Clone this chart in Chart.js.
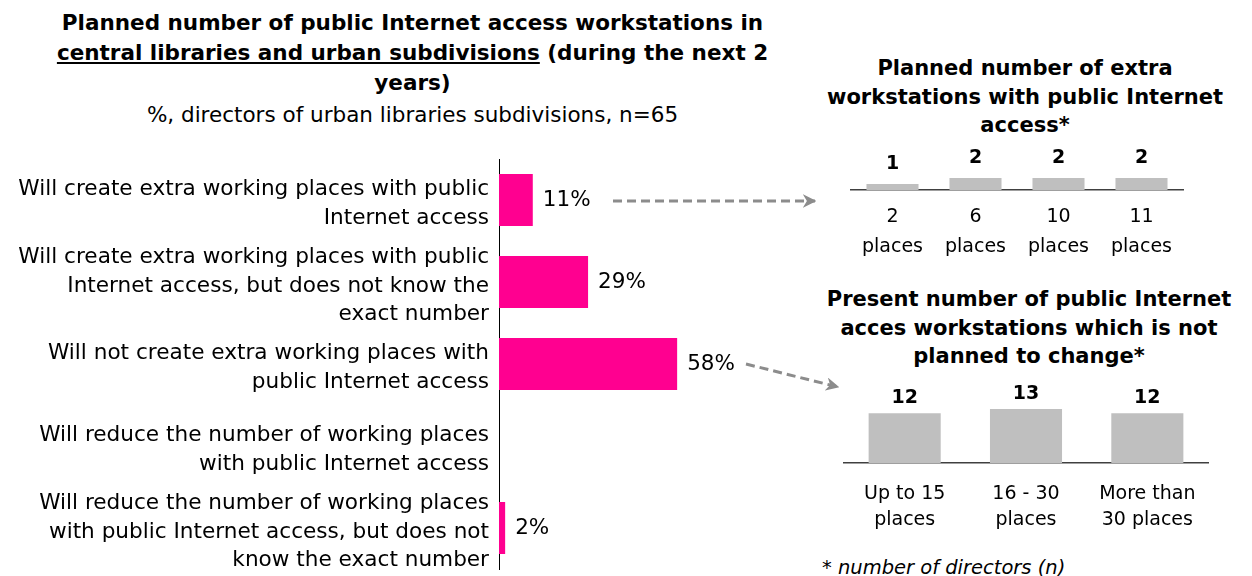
<!DOCTYPE html>
<html>
<head>
<meta charset="utf-8">
<script src="https://cdn.jsdelivr.net/npm/chart.js@4.4.1/dist/chart.umd.min.js"></script>
<style>
  body { margin: 0; background: #fff; width: 1252px; height: 576px; position: relative; overflow: hidden; }
  .t { position: absolute; text-align: center; color: #000; white-space: nowrap; }
  #mainTitle { left: 40px; width: 745px; top: 8px; font: bold 21.5px/30px "DejaVu Sans"; }
  #mainSub { left: 40px; width: 745px; top: 101px; font: 21.5px/28px "DejaVu Sans"; }
  #t1 { left: 805px; width: 440px; top: 54px; font: bold 21px/28.5px "DejaVu Sans"; }
  #t2 { left: 809px; width: 440px; top: 285px; font: bold 21px/28.5px "DejaVu Sans"; }
  #note { position: absolute; left: 822px; top: 556px; font: italic 19.5px "DejaVu Sans"; color: #000; white-space: nowrap; }
  svg { position: absolute; left: 0; top: 0; }
</style>
</head>
<body>
<div class="t" id="mainTitle">Planned number of public Internet access workstations in<br><u>central libraries and urban subdivisions</u> (during the next 2<br>years)</div>
<div class="t" id="mainSub">%, directors of urban libraries subdivisions, n=65</div>
<div class="t" id="t1">Planned number of extra<br>workstations with public Internet<br>access*</div>
<div class="t" id="t2">Present number of public Internet<br>acces workstations which is not<br>planned to change*</div>
<div id="note">* number of directors (n)</div>

<div style="position:absolute;left:0;top:150px;width:800px;height:426px"><canvas id="mainChart"></canvas></div>
<div style="position:absolute;left:840px;top:140px;width:360px;height:120px"><canvas id="extraChart"></canvas></div>
<div style="position:absolute;left:830px;top:370px;width:390px;height:170px"><canvas id="presentChart"></canvas></div>

<svg width="1252" height="576">
  <defs>
    <marker id="head" viewBox="0 0 10 10" refX="9" refY="5" markerWidth="4.5" markerHeight="4.5" orient="auto">
      <path d="M0,0 L10,5 L0,10 L3,5 z" fill="#8c8c8c"/>
    </marker>
  </defs>
  <line x1="613" y1="201" x2="815" y2="201" stroke="#8c8c8c" stroke-width="3" stroke-dasharray="9,5" marker-end="url(#head)"/>
  <line x1="746" y1="364" x2="838" y2="387" stroke="#8c8c8c" stroke-width="3" stroke-dasharray="9,5" marker-end="url(#head)"/>
</svg>

<script>
const mainLabels = [
  ['Will create extra working places with public', 'Internet access'],
  ['Will create extra working places with public', 'Internet access, but does not know the', 'exact number'],
  ['Will not create extra working places with', 'public Internet access'],
  ['Will reduce the number of working places', 'with public Internet access'],
  ['Will reduce the number of working places', 'with public Internet access, but does not', 'know the exact number']
];
const mainValues = [11, 29, 58, null, 2];

const extraLabels = [['2', 'places'], ['6', 'places'], ['10', 'places'], ['11', 'places']];
const extraValues = [1, 2, 2, 2];

const presentLabels = [['Up to 15', 'places'], ['16 - 30', 'places'], ['More than', '30 places']];
const presentValues = [12, 13, 12];

const PINK = '#FF0090';
const GREY = '#BFBFBF';

// draws the value next to / above each bar
function valuePlugin(opts) {
  return {
    id: 'vals_' + opts.name,
    afterDatasetsDraw(chart) {
      const ctx = chart.ctx;
      const meta = chart.getDatasetMeta(0);
      ctx.save();
      ctx.font = opts.font;
      ctx.fillStyle = '#000';
      meta.data.forEach((bar, i) => {
        const v = chart.data.datasets[0].data[i];
        if (v === null || v === undefined) return;
        ctx.textBaseline = 'middle';
        if (opts.horizontal) {
          ctx.textAlign = 'left';
          ctx.fillText(v + opts.suffix, bar.x + opts.gap, bar.y);
        } else {
          ctx.textAlign = 'center';
          ctx.fillText(v, bar.x, bar.y - opts.gap);
        }
      });
      ctx.restore();
    }
  };
}

new Chart(document.getElementById('mainChart'), {
  type: 'bar',
  data: {
    labels: mainLabels,
    datasets: [{
      data: mainValues,
      backgroundColor: PINK,
      categoryPercentage: 1,
      barPercentage: 0.634
    }]
  },
  options: {
    indexAxis: 'y',
    responsive: true,
    maintainAspectRatio: false,
    animation: false,
    layout: { padding: { top: 9, bottom: 7, left: 0, right: 0 } },
    plugins: { legend: { display: false }, tooltip: { enabled: false } },
    scales: {
      x: { display: false, min: 0, max: 98 },
      y: {
        grid: { display: false, drawTicks: false },
        border: { display: true, color: '#000', width: 1 },
        afterFit: s => { s.width = 499; s.paddingTop = 0; s.paddingBottom = 0; },
        ticks: {
          autoSkip: false,
          padding: 10,
          labelOffset: 4,
          color: '#000',
          font: { family: '"DejaVu Sans"', size: 21.6, lineHeight: 1.33 }
        }
      }
    }
  },
  plugins: [valuePlugin({ name: 'main', horizontal: true, gap: 10, suffix: '%', font: '21.5px "DejaVu Sans"' })]
});

new Chart(document.getElementById('extraChart'), {
  type: 'bar',
  data: {
    labels: extraLabels,
    datasets: [{ data: extraValues, backgroundColor: GREY, categoryPercentage: 1, barPercentage: 0.627 }]
  },
  options: {
    responsive: true,
    maintainAspectRatio: false,
    animation: false,
    layout: { padding: { top: 10, bottom: 0, left: 11, right: 17 } },
    plugins: { legend: { display: false }, tooltip: { enabled: false } },
    scales: {
      y: { display: false, min: 0, max: 6.67 },
      x: {
        grid: { display: false, drawTicks: false },
        border: { display: true, color: '#404040', width: 1.5 },
        afterFit: s => { s.height = 70; s.paddingLeft = 0; s.paddingRight = 0; },
        ticks: {
          autoSkip: false,
          padding: 13,
          color: '#000',
          maxRotation: 0,
          font: { family: '"DejaVu Sans"', size: 19, lineHeight: 1.53 }
        }
      }
    }
  },
  plugins: [valuePlugin({ name: 'extra', horizontal: false, gap: 20, font: 'bold 19px "DejaVu Sans"' })]
});

new Chart(document.getElementById('presentChart'), {
  type: 'bar',
  data: {
    labels: presentLabels,
    datasets: [{ data: presentValues, backgroundColor: GREY, categoryPercentage: 1, barPercentage: 0.594 }]
  },
  options: {
    responsive: true,
    maintainAspectRatio: false,
    animation: false,
    layout: { padding: { top: 10, bottom: 0, left: 14, right: 12 } },
    plugins: { legend: { display: false }, tooltip: { enabled: false } },
    scales: {
      y: { display: false, min: 0, max: 20 },
      x: {
        grid: { display: false, drawTicks: false },
        border: { display: true, color: '#404040', width: 1.5 },
        afterFit: s => { s.height = 77; s.paddingLeft = 0; s.paddingRight = 0; },
        ticks: {
          autoSkip: false,
          padding: 18,
          color: '#000',
          maxRotation: 0,
          font: { family: '"DejaVu Sans"', size: 19, lineHeight: 1.37 }
        }
      }
    }
  },
  plugins: [valuePlugin({ name: 'present', horizontal: false, gap: 15, font: 'bold 19px "DejaVu Sans"' })]
});
</script>
</body>
</html>
